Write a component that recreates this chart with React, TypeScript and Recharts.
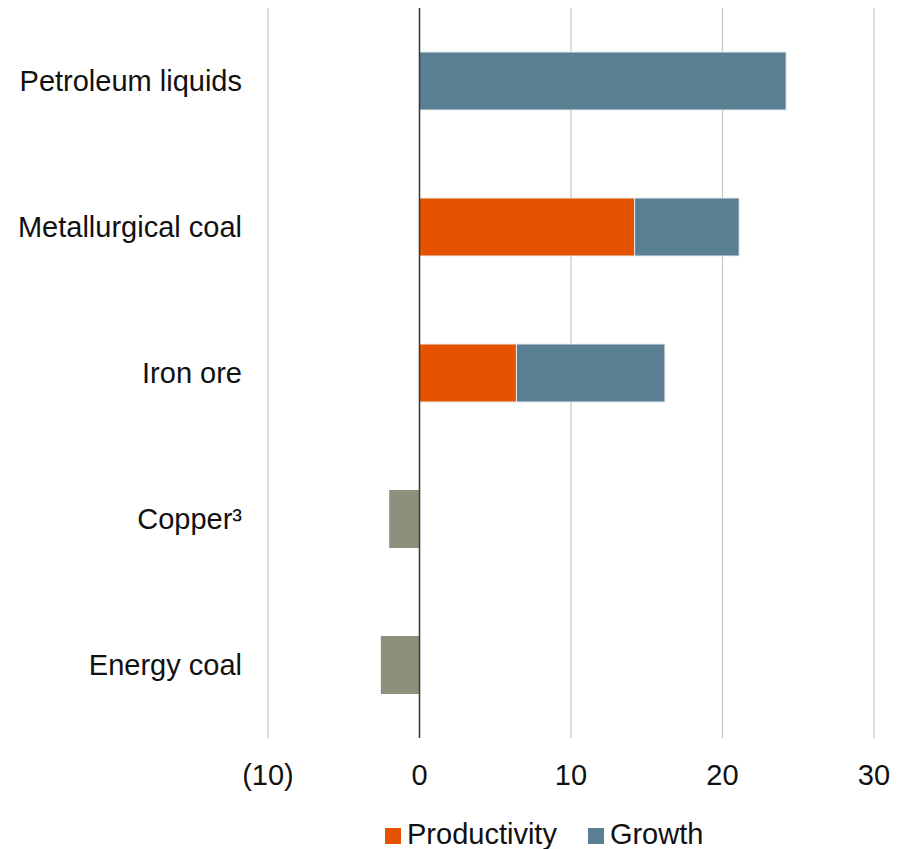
import React from "react";
import {
  BarChart,
  Bar,
  XAxis,
  YAxis,
  CartesianGrid,
  ReferenceLine,
  Legend,
} from "recharts";

const categories = [
  "Petroleum liquids",
  "Metallurgical coal",
  "Iron ore",
  "Copper³",
  "Energy coal",
];
const productivity = [0, 14.2, 6.4, 0, 0];
const growth = [24.2, 6.9, 9.8, 0, 0];
const decline = [0, 0, 0, -2.0, -2.55];
const xTicks = [-10, 0, 10, 20, 30];
const legendItems = [
  { label: "Productivity", color: "#E65200" },
  { label: "Growth", color: "#5A7F92" },
];

const data = categories.map((name, i) => ({
  name,
  productivity: productivity[i] || null,
  growth: growth[i] || null,
  decline: decline[i] || null,
}));

const FONT = "'Liberation Sans', Arial, sans-serif";

const fmt = (v: number) => (v < 0 ? `(${Math.abs(v)})` : `${v}`);

const LegendContent = () => (
  <div style={{ display: "flex", alignItems: "center", fontFamily: FONT, fontSize: 29, color: "#111", lineHeight: "32px" }}>
    {legendItems.map((it, i) => (
      <div key={it.label} style={{ display: "flex", alignItems: "center", marginRight: i === 0 ? 31 : 0 }}>
        <span style={{ display: "inline-block", width: 16, height: 16, background: it.color, marginRight: 6, marginTop: 4 }} />
        <span>{it.label}</span>
      </div>
    ))}
  </div>
);

export default function App() {
  return (
    <div style={{ width: 897, height: 841, fontFamily: FONT }}>
      <BarChart
        width={897}
        height={841}
        data={data}
        layout="vertical"
        stackOffset="sign"
        margin={{ top: 0, right: 31, left: 0, bottom: 51 }}
      >
        <CartesianGrid horizontal={false} stroke="#c6c6ba" strokeWidth={1.2} />
        <XAxis
          type="number"
          domain={[-10, 30]}
          ticks={xTicks}
          tickFormatter={fmt}
          axisLine={false}
          tickLine={false}
          tickSize={0}
          tickMargin={26}
          height={60}
          tick={{ fontSize: 29, fill: "#111", fontFamily: FONT }}
        />
        <YAxis
          type="category"
          dataKey="name"
          width={260}
          axisLine={false}
          tickLine={false}
          tickSize={0}
          tickMargin={26}
          tick={{ fontSize: 29, fill: "#111", fontFamily: FONT }}
        />
        <Legend
          verticalAlign="middle"
          layout="horizontal"
          content={<LegendContent />}
          wrapperStyle={{ top: 810, left: 377, width: 420 }}
        />
        <Bar
          dataKey="productivity"
          name="Productivity"
          stackId="a"
          fill="#E65200"
          stroke="#e8ecee"
          strokeWidth={1}
          barSize={58}
          isAnimationActive={false}
        />
        <Bar
          dataKey="growth"
          name="Growth"
          stackId="a"
          fill="#5A7F92"
          stroke="#e8ecee"
          strokeWidth={1}
          barSize={58}
          isAnimationActive={false}
        />
        <Bar
          dataKey="decline"
          name="Other"
          stackId="a"
          fill="#8F8F7E"
          barSize={58}
          legendType="none"
          isAnimationActive={false}
        />
        <ReferenceLine x={0} stroke="#3a3a3a" strokeWidth={1.5} />
      </BarChart>
    </div>
  );
}
